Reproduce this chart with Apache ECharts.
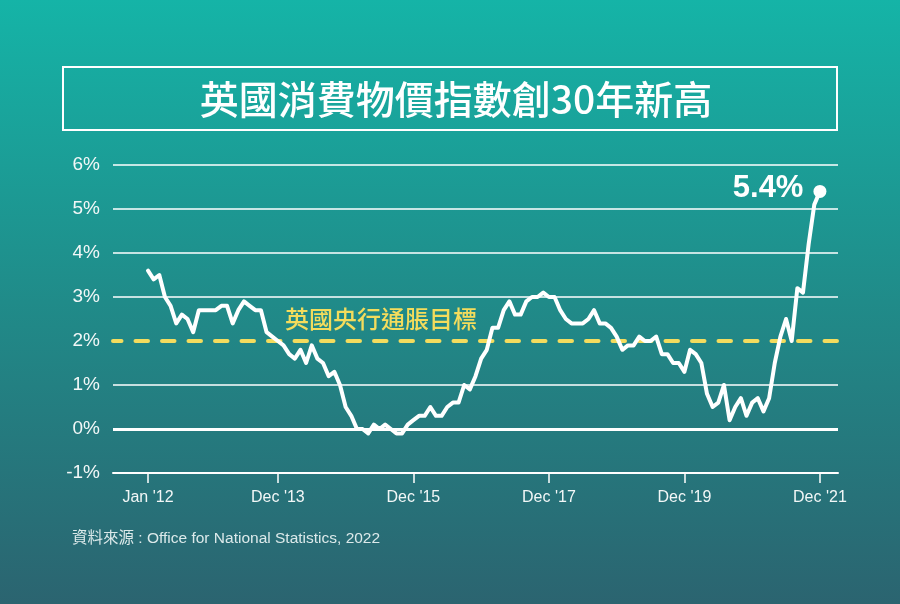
<!DOCTYPE html>
<html>
<head>
<meta charset="utf-8">
<script src="https://cdn.jsdelivr.net/npm/echarts@6/dist/echarts.min.js"></script>
<style>
html,body{margin:0;padding:0;background:#1d8c8a;}
#chart{width:900px;height:604px;}
</style>
</head>
<body>
<div id="chart"></div>
<script>
// UK CPI annual rate (%), monthly, Jan 2012 – Dec 2021
const cpi2012 = [3.6, 3.4, 3.5, 3.0, 2.8, 2.4, 2.6, 2.5, 2.2, 2.7, 2.7, 2.7];
const cpi2013 = [2.7, 2.8, 2.8, 2.4, 2.7, 2.9, 2.8, 2.7, 2.7, 2.2, 2.1, 2.0];
const cpi2014 = [1.9, 1.7, 1.6, 1.8, 1.5, 1.9, 1.6, 1.5, 1.2, 1.3, 1.0, 0.5];
const cpi2015 = [0.3, 0.0, 0.0, -0.1, 0.1, 0.0, 0.1, 0.0, -0.1, -0.1, 0.1, 0.2];
const cpi2016 = [0.3, 0.3, 0.5, 0.3, 0.3, 0.5, 0.6, 0.6, 1.0, 0.9, 1.2, 1.6];
const cpi2017 = [1.8, 2.3, 2.3, 2.7, 2.9, 2.6, 2.6, 2.9, 3.0, 3.0, 3.1, 3.0];
const cpi2018 = [3.0, 2.7, 2.5, 2.4, 2.4, 2.4, 2.5, 2.7, 2.4, 2.4, 2.3, 2.1];
const cpi2019 = [1.8, 1.9, 1.9, 2.1, 2.0, 2.0, 2.1, 1.7, 1.7, 1.5, 1.5, 1.3];
const cpi2020 = [1.8, 1.7, 1.5, 0.8, 0.5, 0.6, 1.0, 0.2, 0.5, 0.7, 0.3, 0.6];
const cpi2021 = [0.7, 0.4, 0.7, 1.5, 2.1, 2.5, 2.0, 3.2, 3.1, 4.2, 5.1, 5.4];

const boeTarget = 2;
const tickMonthIndex = [0, 23, 47, 71, 95, 119];
const tickLabels = ["Jan '12", "Dec '13", "Dec '15", "Dec '17", "Dec '19", "Dec '21"];
const yTicks = [-1, 0, 1, 2, 3, 4, 5, 6];

const titleText = '英國消費物價指數創30年新高';
const targetText = '英國央行通脹目標';
const sourceText = '資料來源 : Office for National Statistics, 2022';

const cpi = [].concat(cpi2012, cpi2013, cpi2014, cpi2015, cpi2016, cpi2017, cpi2018, cpi2019, cpi2020, cpi2021);
const seriesData = cpi.map((v, i) => [i, v]);
const lastIdx = cpi.length - 1;

const chart = echarts.init(document.getElementById('chart'), null, {renderer: 'canvas'});
const labelFont = '"Liberation Sans", Arial, Helvetica, sans-serif';
const cjkFont = '"Noto Sans CJK TC", "Noto Sans CJK SC", sans-serif';

chart.setOption({
  animation: false,
  backgroundColor: new echarts.graphic.LinearGradient(0, 0, 0, 1, [
    {offset: 0, color: '#15b4a7'},
    {offset: 0.5, color: '#208b89'},
    {offset: 1, color: '#2b6470'}
  ]),
  grid: {left: 113, right: 62, top: 165, bottom: 131, containLabel: false},
  xAxis: {
    type: 'value',
    min: -6.2,
    max: 122.2,
    axisLine: {show: true, onZero: false, lineStyle: {color: '#ffffff', width: 2}},
    axisTick: {show: true, customValues: tickMonthIndex, length: 10, lineStyle: {color: '#ffffff', width: 1.5}},
    axisLabel: {
      show: true,
      customValues: tickMonthIndex,
      formatter: function (v) {
        const k = tickMonthIndex.indexOf(Math.round(v));
        return k >= 0 ? tickLabels[k] : '';
      },
      color: '#f2f7f7',
      fontSize: 16,
      fontFamily: labelFont,
      margin: 17
    },
    splitLine: {show: false}
  },
  yAxis: {
    type: 'value',
    min: -1,
    max: 6,
    interval: 1,
    axisLine: {show: false},
    axisTick: {show: false},
    axisLabel: {
      formatter: '{value}%',
      color: '#f2f7f7',
      fontSize: 19,
      fontFamily: labelFont,
      margin: 13
    },
    splitLine: {
      show: true,
      lineStyle: {
        color: yTicks.map(t => t === boeTarget ? 'rgba(0,0,0,0)' : '#ffffff'),
        width: 1.5
      }
    }
  },
  series: [
    {
      type: 'line',
      data: seriesData,
      showSymbol: false,
      silent: true,
      lineStyle: {color: '#ffffff', width: 4, join: 'round', cap: 'round'},
      z: 5,
      markLine: {
        silent: true,
        symbol: ['none', 'none'],
        label: {show: false},
        data: [
          {yAxis: 0, lineStyle: {color: '#ffffff', width: 3, type: 'solid'}},
          {yAxis: boeTarget, lineStyle: {color: '#f3dc5e', width: 4, type: [12.5, 14], cap: 'round', dashOffset: 4}}
        ]
      },
      markPoint: {
        silent: true,
        symbol: 'circle',
        symbolSize: 13,
        itemStyle: {color: '#ffffff'},
        label: {
          show: true,
          position: 'left',
          distance: 10,
          offset: [0, -3],
          formatter: function () { return cpi[lastIdx].toFixed(1) + '%'; },
          color: '#ffffff',
          fontSize: 31,
          fontWeight: 'bold',
          fontFamily: labelFont
        },
        data: [{coord: [lastIdx, cpi[lastIdx]]}]
      }
    }
  ],
  graphic: [
    {
      type: 'rect',
      shape: {x: 63, y: 67, width: 774, height: 63},
      style: {fill: 'rgba(0,0,0,0)', stroke: '#ffffff', lineWidth: 2},
      silent: true
    },
    {
      type: 'text',
      x: 456, y: 99,
      style: {
        text: titleText,
        fill: '#ffffff',
        font: '500 39px ' + cjkFont,
        textAlign: 'center',
        textVerticalAlign: 'middle'
      },
      silent: true
    },
    {
      type: 'text',
      x: 285, y: 319,
      style: {
        text: targetText,
        fill: '#f4dc5c',
        font: '500 24px ' + cjkFont,
        textAlign: 'left',
        textVerticalAlign: 'middle'
      },
      silent: true
    },
    {
      type: 'text',
      x: 72, y: 539,
      style: {
        text: sourceText,
        fill: 'rgba(235,244,244,0.92)',
        font: '15.5px ' + labelFont + ', ' + cjkFont,
        textAlign: 'left',
        textVerticalAlign: 'middle'
      },
      silent: true
    }
  ]
});
</script>
</body>
</html>
